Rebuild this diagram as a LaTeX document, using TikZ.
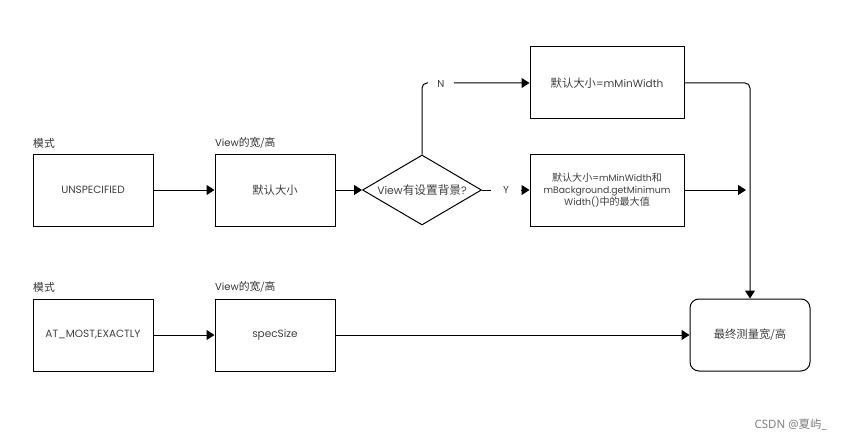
\documentclass[tikz,border=0pt]{standalone}
\usepackage{fontspec}
\setmainfont{Poppins}
\newfontfamily\cjk[Scale=1.08]{Noto Sans CJK SC}
\newfontfamily\wmfont{Noto Sans}
\newfontfamily\wmcjk{Noto Sans CJK SC}
\usetikzlibrary{arrows.meta,shapes.geometric}
\tikzset{
  box/.style={draw, line width=1pt, minimum width=120pt, minimum height=72pt, inner sep=0pt, align=center, text=black!75, font=\fontsize{10.5}{12}\selectfont},
  wbox/.style={box, minimum width=154pt},
  dia/.style={draw, line width=1pt, diamond, aspect=1.7, minimum width=119pt, minimum height=70pt, inner sep=0pt},
  lbl/.style={anchor=west, text=black!80, font=\fontsize{10}{12}\selectfont, inner sep=0pt},
  yn/.style={fill=white, text=black!75, font=\fontsize{10}{12}\selectfont, inner sep=0pt, minimum height=10pt},
  arr/.style={line width=1pt, -{Triangle[length=8pt,width=10pt]}}
}
\begin{document}
\begin{tikzpicture}[x=1pt,y=-1pt]
\useasboundingbox[fill=white] (0,0) rectangle (843,441);
% row 1
\node[lbl] (m1) at (33,143) {\cjk 模式};
\node[lbl] (v1) at (215,143) {View{\cjk 的宽/高}};
\node[box] (u) at (93,190) {UNSPECIFIED};
\node[box] (d) at (275,190) {\cjk 默认大小};
\node[dia] (q) at (422,190) {};
\node[text=black!75, font=\fontsize{10.8}{12}\selectfont, inner sep=0pt] (qt) at (q.center) {View{\cjk 有设置背景}?};
\node[wbox] (n) at (607,83) {{\cjk 默认大小}=mMinWidth};
\node[wbox, font=\fontsize{9.3}{12}\selectfont] (y) at (607,190) {{\cjk 默认大小}=mMinWidth{\cjk 和}\\mBackground.getMinimum\\Width(){\cjk 中的最大值}};
\node[box, rounded corners=9pt] (f) at (750,335) {\cjk 最终测量宽/高};
% row 2
\node[lbl] (m2) at (33,287) {\cjk 模式};
\node[lbl] (v2) at (215,287) {View{\cjk 的宽/高}};
\node[box] (a) at (93,335) {AT\_MOST,EXACTLY};
\node[box] (s) at (275,335) {specSize};
\coordinate (c1) at (746,190);
% connectors
\draw[arr] (u) -- (d);
\draw[arr] (d) -- (q.west);
\draw[arr, rounded corners=5pt] (q.north) |- (n.west);
\node[yn, minimum width=26pt] (nl) at (441,84) {N};
\draw[arr] (q.east) -- (y.west);
\node[yn, minimum width=30pt] (yl) at (506,190) {Y};
\draw[arr] (y.east) -- (c1);
\draw[arr, rounded corners=5pt] (n.east) -| (f.north);
\draw[arr] (a) -- (s);
\draw[arr] (s) -- (f.west);
% watermark
\node[anchor=east, text=black!50, font=\fontsize{11.5}{13}\selectfont, inner sep=0pt] (wm) at (827,425) {\wmfont CSDN @{\wmcjk 夏屿}\_};
\end{tikzpicture}
\end{document}
